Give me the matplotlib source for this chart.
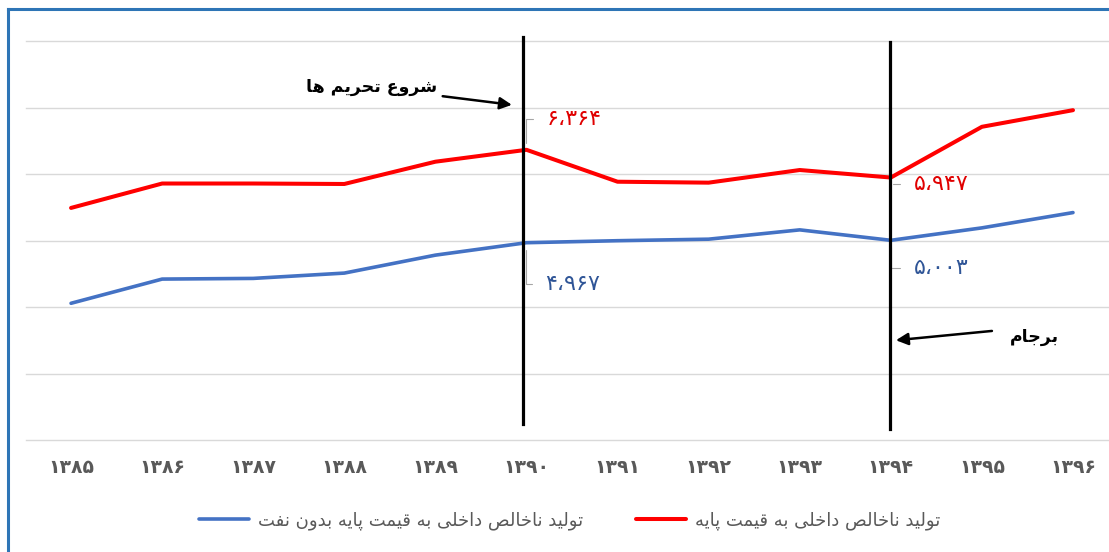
import matplotlib
matplotlib.use('Agg')
import matplotlib.pyplot as plt
from matplotlib.lines import Line2D

# Persian letter forms: (isolated, final, initial, medial); None = does not join to the next letter
FORMS = {
    'ا': ('\uFE8D', '\uFE8E', None, None),
    'ب': ('\uFE8F', '\uFE90', '\uFE91', '\uFE92'),
    'پ': ('\uFB56', '\uFB57', '\uFB58', '\uFB59'),
    'ت': ('\uFE95', '\uFE96', '\uFE97', '\uFE98'),
    'ج': ('\uFE9D', '\uFE9E', '\uFE9F', '\uFEA0'),
    'ح': ('\uFEA1', '\uFEA2', '\uFEA3', '\uFEA4'),
    'خ': ('\uFEA5', '\uFEA6', '\uFEA7', '\uFEA8'),
    'د': ('\uFEA9', '\uFEAA', None, None),
    'ر': ('\uFEAD', '\uFEAE', None, None),
    'ش': ('\uFEB5', '\uFEB6', '\uFEB7', '\uFEB8'),
    'ص': ('\uFEB9', '\uFEBA', '\uFEBB', '\uFEBC'),
    'ع': ('\uFEC9', '\uFECA', '\uFECB', '\uFECC'),
    'ف': ('\uFED1', '\uFED2', '\uFED3', '\uFED4'),
    'ق': ('\uFED5', '\uFED6', '\uFED7', '\uFED8'),
    'ل': ('\uFEDD', '\uFEDE', '\uFEDF', '\uFEE0'),
    'م': ('\uFEE1', '\uFEE2', '\uFEE3', '\uFEE4'),
    'ن': ('\uFEE5', '\uFEE6', '\uFEE7', '\uFEE8'),
    'ه': ('\uFEE9', '\uFEEA', '\uFEEB', '\uFEEC'),
    'و': ('\uFEED', '\uFEEE', None, None),
    'ی': ('\uFBFC', '\uFBFD', '\uFBFE', '\uFBFF'),
}


def fa(text):
    # join the letters and put them in visual (left-to-right) order
    out = []
    for i, c in enumerate(text):
        if c not in FORMS:
            out.append(c)
            continue
        prev = text[i - 1] if i > 0 else None
        nxt = text[i + 1] if i + 1 < len(text) else None
        iso, fin, ini, med = FORMS[c]
        jp = prev in FORMS and FORMS[prev][2] is not None
        jn = nxt in FORMS and ini is not None
        if jp and jn:
            out.append(med)
        elif jp:
            out.append(fin)
        elif jn:
            out.append(ini)
        else:
            out.append(iso)
    return ''.join(out)[::-1]


# data
years = ['۱۳۸۵', '۱۳۸۶', '۱۳۸۷', '۱۳۸۸', '۱۳۸۹', '۱۳۹۰',
         '۱۳۹۱', '۱۳۹۲', '۱۳۹۳', '۱۳۹۴', '۱۳۹۵', '۱۳۹۶']
gdp_base = [5.49, 5.857, 5.857, 5.85, 6.185, 6.364, 5.884, 5.87, 6.06, 5.947, 6.71, 6.96]
gdp_nonoil = [4.056, 4.42, 4.43, 4.51, 4.78, 4.967, 4.997, 5.02, 5.16, 5.003, 5.19, 5.42]
label_base = 'تولید ناخالص داخلی به قیمت پایه'
label_nonoil = 'تولید ناخالص داخلی به قیمت پایه بدون نفت'
sanctions_text = 'شروع تحریم ها'
jcpoa_text = 'برجام'
marked = {5: ('۶،۳۶۴', '۴،۹۶۷'), 9: ('۵،۹۴۷', '۵،۰۰۳')}

RED = '#FF0000'
BLUE = '#4472C4'
GREY = '#595959'

fig = plt.figure(figsize=(11.09, 5.52), dpi=100)
ax = fig.add_axes([0.023, 0.2029, 0.9856, 0.7228])

x = list(range(len(years)))
ax.plot(x, gdp_nonoil, color=BLUE, lw=2.6, solid_capstyle='round', label=fa(label_nonoil), zorder=3)
ax.plot(x, gdp_base, color=RED, lw=2.9, solid_capstyle='round', label=fa(label_base), zorder=3)

ax.set_xlim(-0.5, len(years) - 0.5)
ax.set_ylim(2, 8)
ax.set_yticks(range(2, 9))
ax.yaxis.grid(True, color='#D9D9D9', lw=1)
for gl in ax.get_ygridlines():
    gl.set_clip_on(False)
ax.set_axisbelow(True)
ax.tick_params(axis='y', left=False, labelleft=False)
ax.set_xticks(x)
ax.set_xticklabels(years, fontsize=13.5, fontweight='bold', color=GREY)
ax.tick_params(axis='x', length=0, pad=13)
for s in ax.spines.values():
    s.set_visible(False)

# event lines
ax.plot([4.96, 4.96], [8.06, 2.24], color='black', lw=2.3, clip_on=False, zorder=4)
ax.plot([8.99, 8.99], [7.985, 2.165], color='black', lw=2.3, clip_on=False, zorder=4)

arrow = dict(arrowstyle='-|>', color='black', lw=1.8, mutation_scale=18, shrinkA=0, shrinkB=0)
ax.annotate('', xy=(4.84, 7.04), xytext=(4.08, 7.17), arrowprops=arrow)
ax.text(4.02, 7.31, fa(sanctions_text), ha='right', va='center', fontsize=12.5,
        fontweight='bold', color='black')
ax.annotate('', xy=(9.056, 3.50), xytext=(10.11, 3.64), arrowprops=arrow)
ax.text(10.31, 3.55, fa(jcpoa_text), ha='left', va='center', fontsize=12.5,
        fontweight='bold', color='black')

# data labels with leader lines
leader = dict(arrowstyle='-', color='#A6A6A6', lw=0.8, shrinkA=8, shrinkB=5,
              connectionstyle='angle,angleA=0,angleB=90,rad=0', relpos=(0, 0.5))
offsets = {5: ((20, 31), (19, -41)), 9: ((23, -6.5), (23, -28))}
for i, (lb, ln) in marked.items():
    ax.annotate(lb, xy=(i, gdp_base[i]), xytext=offsets[i][0], textcoords='offset pixels',
                ha='left', va='center', fontsize=16, color='#E00000', arrowprops=leader)
    ax.annotate(ln, xy=(i, gdp_nonoil[i]), xytext=offsets[i][1], textcoords='offset pixels',
                ha='left', va='center', fontsize=16, color='#2F5597', arrowprops=leader)

fig.legend(loc='center', bbox_to_anchor=(0.5135, 1 - 521 / 552), ncol=2, frameon=False,
           fontsize=13, labelcolor=GREY, handlelength=2.8, handletextpad=0.5,
           columnspacing=2.9)

# blue frame edges
fig.add_artist(Line2D([0.0068, 0.0068], [0, 0.9846], color='#2E75B6', lw=2.2))
fig.add_artist(Line2D([0.0068, 1], [0.9846, 0.9846], color='#2E75B6', lw=2.2))

fig.savefig('out.png', dpi=100)
